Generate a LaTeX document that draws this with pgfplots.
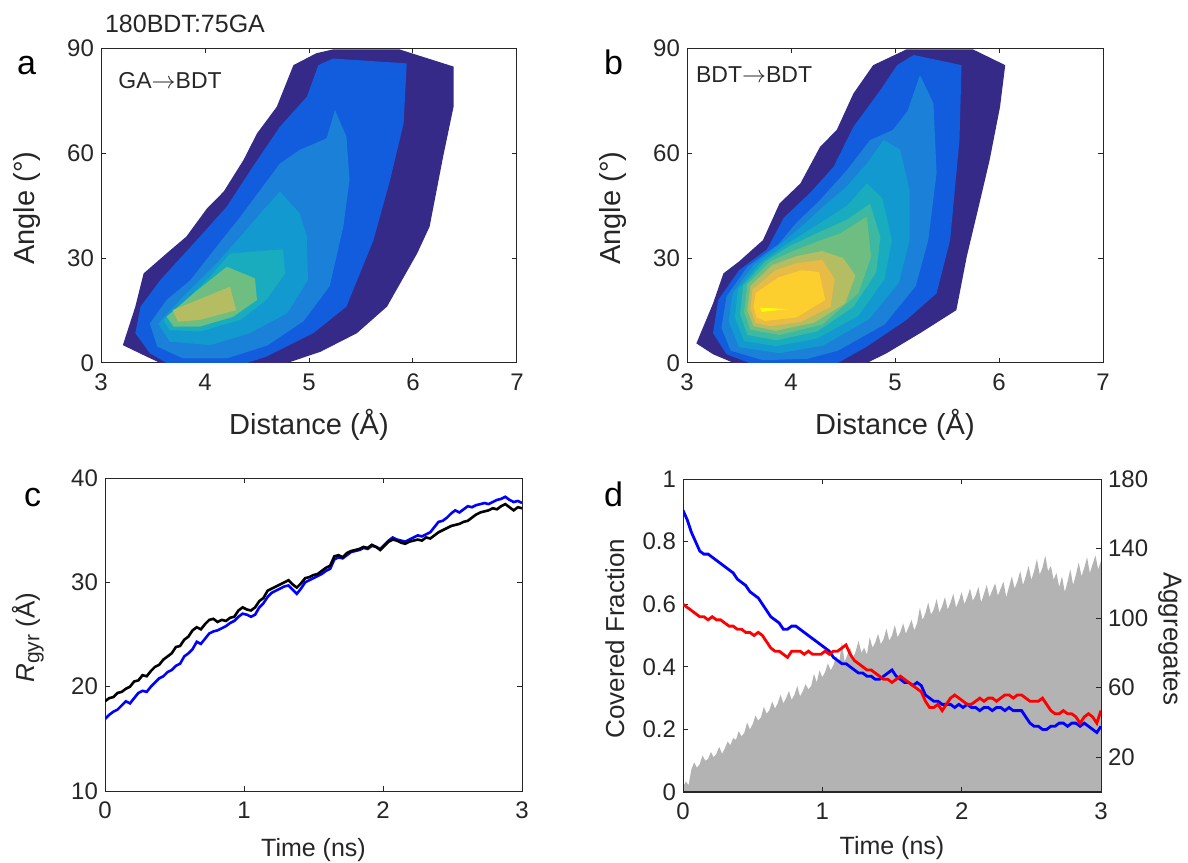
\documentclass[border=0pt]{standalone}
\usepackage{pgfplots}
\pgfplotsset{compat=1.18}
\usepackage{fontspec}
\setmainfont{Liberation Sans}

\definecolor{axcol}{RGB}{38,38,38}
\definecolor{lv1}{RGB}{53,42,135}
\definecolor{lv2}{RGB}{18,92,222}
\definecolor{lv3}{RGB}{26,128,216}
\definecolor{lv4}{RGB}{18,153,208}
\definecolor{lv5}{RGB}{24,172,190}
\definecolor{lv6}{RGB}{60,185,160}
\definecolor{lv7}{RGB}{110,190,130}
\definecolor{lv8}{RGB}{180,189,98}
\definecolor{lv9}{RGB}{232,186,70}
\definecolor{lv10}{RGB}{252,206,46}
\definecolor{lv11}{RGB}{249,251,14}
\definecolor{aggray}{RGB}{179,179,179}
\definecolor{rblue}{RGB}{0,0,255}
\definecolor{rred}{RGB}{255,0,0}

\pgfplotsset{
  panel/.style={
    scale only axis,
    axis line style={draw=axcol, line width=0.5pt},
    tick style={draw=axcol, line width=0.5pt},
    major tick length=2.5pt,
    tick align=inside,
    xtick pos=both, ytick pos=both,
    ticklabel style={font=\fontsize{12}{12}\selectfont, text=axcol},
    xticklabel style={yshift=-2pt},
    label style={font=\fontsize{13}{13}\selectfont, text=axcol},
    /pgf/number format/assume math mode=true,
    clip=true,
  },
  contourpanel/.style={
    panel,
    width=208pt, height=157.5pt,
    xmin=3, xmax=7, ymin=0, ymax=90,
    xtick={3,4,5,6,7}, ytick={0,30,60,90},
    label style={font=\fontsize{14.5}{14.5}\selectfont},
    xlabel={Distance (Å)}, ylabel={Angle (°)},
    xlabel style={at={(axis description cs:0.5,-0.197)}, anchor=center},
    ylabel style={at={(axis description cs:-0.178,0.492)}, anchor=center},
  },
}

\begin{document}
\begin{tikzpicture}
\useasboundingbox (0pt,0pt) rectangle (594pt,431pt);

% ---------- panel a: GA -> BDT ----------
\begin{axis}[contourpanel, at={(50.5pt,249.5pt)}, anchor=south west]
\addplot[fill=lv1, draw=none] coordinates {
 (3.21,5.1) (3.33,16.1) (3.41,25.6) (3.63,31.3) (3.82,36.1) (4.02,44.2) (4.18,49) (4.37,58)
 (4.50,65.6) (4.69,73.2) (4.85,85.1) (5.07,88.5) (5.23,89.6) (5.87,89.6) (6.39,84.7) (6.39,73.2)
 (6.29,59) (6.16,39) (6.04,31.3) (5.75,16.1) (5.46,8.5) (5.11,3.2) (4.79,0) (3.57,0) (3.44,1.8)};
\addplot[fill=lv2, draw=none] coordinates {
 (3.33,8.5) (3.38,16.1) (3.57,23.7) (3.95,36.1) (4.21,44.7) (4.46,56.1) (4.72,67.5) (4.98,76.1)
 (5.09,85.1) (5.23,87) (5.94,85.6) (5.91,68.5) (5.78,52.3) (5.62,35.1) (5.36,16.1) (5.04,8.5)
 (4.59,1.8) (4.40,0) (3.63,0) (3.47,2.8)};
\addplot[fill=lv3, draw=none] coordinates {
 (3.47,11.3) (3.63,18) (3.86,23.7) (4.11,33.2) (4.34,41.8) (4.53,49.4) (4.72,57) (4.91,60.9)
 (5.17,64.2) (5.25,72.3) (5.36,64.7) (5.39,52.3) (5.33,39) (5.2,22) (4.95,12) (4.6,5)
 (4.21,1.3) (3.79,1.3) (3.54,4.7)};
\addplot[fill=lv4, draw=none] coordinates {
 (3.55,11.3) (3.82,19.9) (4.08,27.5) (4.34,36.1) (4.56,43.7) (4.72,49) (4.91,42.8) (4.98,36.1)
 (4.99,23.7) (4.79,14.2) (4.43,8.5) (4.05,5.1) (3.66,6.1)};
\addplot[fill=lv5, draw=none] coordinates {
 (3.6,12.3) (3.82,18) (4.05,24.7) (4.24,31.3) (4.75,32.5) (4.77,25.6) (4.59,18) (4.34,12.3)
 (3.95,9) (3.66,9.4)};
\addplot[fill=lv7, draw=none] coordinates {
 (3.63,13.2) (3.89,19.9) (4.21,27.5) (4.48,24.2) (4.50,18) (4.27,13.2) (3.95,10.4) (3.70,10.4)};
\addplot[fill=lv8, draw=none] coordinates {
 (3.69,15.1) (4.24,21.8) (4.30,15.1) (3.95,12.3) (3.74,11.8)};
\node[anchor=base west, font=\fontsize{11.5}{11.5}\selectfont, text=axcol]
  at (rel axis cs:0.025,0.87) {GA$\rightarrow$BDT};
\end{axis}

% ---------- panel b: BDT -> BDT ----------
\begin{axis}[contourpanel, at={(343.5pt,249.5pt)}, anchor=south west]
\addplot[fill=lv1, draw=none] coordinates {
 (3.09,5.6) (3.25,17) (3.35,25.6) (3.5,29) (3.73,35.1) (3.89,45.6) (4.09,51.3) (4.28,61.8)
 (4.44,66.6) (4.6,77) (4.79,85.1) (5.11,89.6) (5.75,89.6) (6.06,85.1) (6.01,73.2) (5.91,58)
 (5.82,46.6) (5.69,30.4) (5.59,15.1) (5.24,8.5) (4.92,2.8) (4.73,0) (3.45,0) (3.25,2.5)};
\addplot[fill=lv2, draw=none] coordinates {
 (3.25,8.5) (3.3,18) (3.5,26.5) (3.77,32.5) (3.93,41.5) (4.18,48.5) (4.41,56.1) (4.6,67.5)
 (4.86,78) (5.02,85.1) (5.18,88) (5.64,85.1) (5.62,63.7) (5.53,35.1) (5.4,19.9) (5.11,12.3)
 (4.73,4.7) (4.45,0) (3.6,0) (3.38,2.5)};
\addplot[fill=lv3, draw=none] coordinates {
 (3.33,10) (3.38,19) (3.58,27.5) (3.88,34) (4.05,40) (4.28,46.6) (4.54,55.2) (4.76,63.7)
 (4.98,66.6) (5.12,72) (5.24,82.3) (5.37,74.2) (5.4,54.2) (5.32,35.1) (5.2,22) (4.9,11)
 (4.45,3.5) (4.16,1.2) (3.73,0.8) (3.42,3.5)};
\addplot[fill=lv4, draw=none] coordinates {
 (3.4,12) (3.44,20) (3.64,28) (3.92,34.5) (4.12,39.5) (4.32,45) (4.52,50) (4.73,57)
 (4.89,63.7) (5.05,61) (5.14,49.4) (5.14,35.1) (5.04,23) (4.75,12.5) (4.31,5) (3.89,2.8)
 (3.5,4.5)};
\addplot[fill=lv5, draw=none] coordinates {
 (3.46,13) (3.49,21) (3.7,28.5) (3.96,34) (4.28,40) (4.54,45) (4.73,51.3) (4.88,47)
 (4.97,35.1) (4.9,24) (4.65,13.5) (4.25,7) (3.86,4.8) (3.55,6.2)};
\addplot[fill=lv6, draw=none] coordinates {
 (3.51,14) (3.54,22) (3.75,29) (3.99,33.5) (4.28,37.5) (4.54,41) (4.76,45.5) (4.86,36)
 (4.82,26) (4.6,16) (4.25,9) (3.86,6.5) (3.58,8)};
\addplot[fill=lv7, draw=none] coordinates {
 (3.55,14.5) (3.58,22.5) (3.8,29) (4.02,32) (4.28,35) (4.47,37) (4.73,41.8) (4.77,30.4)
 (4.65,20) (4.3,11) (3.89,8) (3.61,9.5)};
\addplot[fill=lv8, draw=none] coordinates {
 (3.58,15) (3.61,22) (3.82,28) (4.05,30.5) (4.3,32) (4.5,30) (4.62,25) (4.52,17)
 (4.22,11.5) (3.85,9.2) (3.64,10.5)};
\addplot[fill=lv9, draw=none] coordinates {
 (3.61,15.5) (3.63,21) (3.85,26.5) (4.05,28.5) (4.3,29.5) (4.42,24) (4.38,16) (4.1,11.8)
 (3.8,10.5) (3.66,11.5)};
\addplot[fill=lv10, draw=none] coordinates {
 (3.64,16) (3.66,20) (3.88,24.5) (4.1,26.5) (4.27,26) (4.33,18) (4.05,13) (3.75,12) (3.67,13)};
\addplot[fill=lv11, draw=none] coordinates {
 (3.7,15.8) (3.98,15.4) (3.72,14.6)};
\node[anchor=base west, font=\fontsize{11.5}{11.5}\selectfont, text=axcol]
  at (rel axis cs:0.005,0.89) {BDT$\rightarrow$BDT};
\end{axis}

% ---------- panel c: radius of gyration ----------
\begin{axis}[panel, at={(52.5pt,35.5pt)}, anchor=south west,
  width=208.5pt, height=156.5pt,
  xmin=0, xmax=3, ymin=10, ymax=40,
  xtick={0,1,2,3}, ytick={10,20,30,40},
  xlabel={Time (ns)},
  ylabel={\textit{R}\raisebox{-0.35ex}{\fontsize{10.5}{10.5}\selectfont gyr} (Å)},
  xlabel style={at={(axis description cs:0.5,-0.19)}, anchor=center, font=\fontsize{12.5}{12.5}\selectfont},
  ylabel style={at={(axis description cs:-0.185,0.49)}, anchor=center},
]
\addplot[rblue, line width=1.3pt] coordinates {
 (0.00,16.9) (0.03,17.3) (0.06,17.6) (0.09,17.8) (0.12,18.2) (0.15,18.6) (0.18,18.4) (0.21,18.9)
 (0.24,19.4) (0.27,19.6) (0.30,19.5) (0.33,20.0) (0.36,20.4) (0.39,20.8) (0.42,21.0) (0.45,21.4)
 (0.48,21.6) (0.51,22.0) (0.54,22.2) (0.57,22.9) (0.60,23.2) (0.63,23.6) (0.66,24.3) (0.69,24.1)
 (0.72,24.6) (0.75,25.1) (0.78,25.3) (0.81,25.4) (0.84,25.6) (0.87,25.8) (0.90,26.1) (0.93,26.3)
 (0.96,26.7) (0.99,27.0) (1.02,26.9) (1.05,26.7) (1.08,26.9) (1.11,27.6) (1.14,28.0) (1.17,28.6)
 (1.20,29.0) (1.23,29.2) (1.26,29.4) (1.29,29.6) (1.32,29.7) (1.35,29.3) (1.38,28.9) (1.41,29.4)
 (1.44,30.0) (1.47,30.2) (1.50,30.4) (1.53,30.6) (1.56,30.8) (1.59,31.1) (1.62,31.3) (1.65,32.2)
 (1.68,32.4) (1.71,32.3) (1.74,32.6) (1.77,32.9) (1.80,33.0) (1.83,33.1) (1.86,33.3) (1.89,33.2)
 (1.92,33.5) (1.95,33.4) (1.98,33.2) (2.01,33.6) (2.04,34.0) (2.07,34.3) (2.10,34.1) (2.13,34.0)
 (2.16,33.9) (2.19,34.1) (2.22,34.3) (2.25,34.5) (2.28,34.4) (2.31,34.6) (2.34,34.8) (2.37,35.3)
 (2.40,35.8) (2.43,35.9) (2.46,36.2) (2.49,36.6) (2.52,36.9) (2.55,36.7) (2.58,37.0) (2.61,37.3)
 (2.64,37.2) (2.67,37.4) (2.70,37.5) (2.73,37.6) (2.76,37.5) (2.79,37.7) (2.82,37.9) (2.85,38.0)
 (2.88,38.2) (2.91,37.9) (2.94,37.7) (2.97,37.8) (3.00,37.6)};
\addplot[black, line width=1.3pt] coordinates {
 (0.00,18.6) (0.03,18.9) (0.06,19.0) (0.09,19.4) (0.12,19.5) (0.15,19.8) (0.18,20.0) (0.21,20.5)
 (0.24,20.6) (0.27,21.1) (0.30,21.0) (0.33,21.5) (0.36,21.9) (0.39,22.1) (0.42,22.6) (0.45,22.9)
 (0.48,23.2) (0.51,23.8) (0.54,23.9) (0.57,24.5) (0.60,24.8) (0.63,25.4) (0.66,25.7) (0.69,25.5)
 (0.72,26.0) (0.75,26.4) (0.78,26.5) (0.81,26.2) (0.84,26.4) (0.87,26.3) (0.90,26.6) (0.93,26.7)
 (0.96,27.3) (0.99,27.6) (1.02,27.4) (1.05,27.3) (1.08,27.6) (1.11,28.2) (1.14,28.5) (1.17,29.2)
 (1.20,29.4) (1.23,29.6) (1.26,29.8) (1.29,30.0) (1.32,30.2) (1.35,29.8) (1.38,29.5) (1.41,29.9)
 (1.44,30.4) (1.47,30.5) (1.50,30.7) (1.53,30.8) (1.56,31.1) (1.59,31.4) (1.62,31.6) (1.65,32.5)
 (1.68,32.6) (1.71,32.4) (1.74,32.8) (1.77,33.0) (1.80,33.1) (1.83,33.2) (1.86,33.4) (1.89,33.3)
 (1.92,33.6) (1.95,33.4) (1.98,33.1) (2.01,33.5) (2.04,33.9) (2.07,34.1) (2.10,34.0) (2.13,33.8)
 (2.16,33.7) (2.19,33.9) (2.22,34.0) (2.25,34.1) (2.28,34.0) (2.31,34.3) (2.34,34.2) (2.37,34.5)
 (2.40,34.8) (2.43,35.0) (2.46,35.2) (2.49,35.4) (2.52,35.5) (2.55,35.6) (2.58,35.8) (2.61,35.9)
 (2.64,36.2) (2.67,36.5) (2.70,36.7) (2.73,36.8) (2.76,36.9) (2.79,37.1) (2.82,37.0) (2.85,37.3)
 (2.88,37.5) (2.91,37.2) (2.94,36.9) (2.97,37.2) (3.00,37.1)};
\end{axis}

% ---------- panel d: aggregates (right axis) ----------
\begin{axis}[panel, at={(341.5pt,35pt)}, anchor=south west,
  width=209pt, height=156.5pt,
  axis on top,
  xmin=0, xmax=3, ymin=0, ymax=180,
  xtick=\empty,
  ytick={20,60,100,140,180}, ytick pos=right, yticklabel pos=right,
  ylabel={Aggregates},
  ylabel style={at={(axis description cs:1.165,0.49)}, anchor=center, rotate=180},
]
\addplot[fill=aggray, draw=none] coordinates {
 (0.00,3) (0.02,6) (0.04,4) (0.06,13) (0.08,17) (0.10,14) (0.12,16) (0.14,21) (0.16,18) (0.18,19)
 (0.20,23) (0.22,20) (0.24,22) (0.26,26) (0.28,22) (0.30,25) (0.32,29) (0.34,27) (0.36,31) (0.38,30)
 (0.40,35) (0.42,32) (0.44,34) (0.46,40) (0.48,36) (0.50,39) (0.52,44) (0.54,41) (0.56,43) (0.58,49)
 (0.60,45) (0.62,47) (0.64,52) (0.66,48) (0.68,51) (0.70,56) (0.72,51) (0.74,54) (0.76,58) (0.78,53)
 (0.80,56) (0.82,61) (0.84,55) (0.86,58) (0.88,62) (0.90,59) (0.92,61) (0.94,68) (0.96,63) (0.98,70)
 (1.00,66) (1.02,69) (1.04,74) (1.06,70) (1.08,73) (1.10,78) (1.12,74) (1.14,86) (1.16,75) (1.18,79)
 (1.20,83) (1.22,77) (1.24,81) (1.26,87) (1.28,80) (1.30,83) (1.32,79) (1.34,89) (1.36,83) (1.38,86)
 (1.40,91) (1.42,85) (1.44,88) (1.46,94) (1.48,87) (1.50,90) (1.52,96) (1.54,89) (1.56,92) (1.58,97)
 (1.60,91) (1.62,95) (1.64,99) (1.66,93) (1.68,97) (1.70,106) (1.72,99) (1.74,103) (1.76,109) (1.78,102)
 (1.80,105) (1.82,111) (1.84,103) (1.86,107) (1.88,112) (1.90,105) (1.92,109) (1.94,114) (1.96,106) (1.98,110)
 (2.00,115) (2.02,108) (2.04,112) (2.06,117) (2.08,110) (2.10,113) (2.12,118) (2.14,109) (2.16,114) (2.18,119)
 (2.20,112) (2.22,116) (2.24,120) (2.26,113) (2.28,117) (2.30,121) (2.32,112) (2.34,118) (2.36,124) (2.38,117)
 (2.40,121) (2.42,127) (2.44,119) (2.46,124) (2.48,130) (2.50,122) (2.52,127) (2.54,134) (2.56,125) (2.58,129)
 (2.60,136) (2.62,127) (2.64,130) (2.66,122) (2.68,126) (2.70,118) (2.72,124) (2.74,115) (2.76,121) (2.78,128)
 (2.80,119) (2.82,125) (2.84,132) (2.86,124) (2.88,129) (2.90,135) (2.92,126) (2.94,131) (2.96,136) (2.98,128)
 (3.00,133)} \closedcycle;
\end{axis}

% ---------- panel d: covered fraction (left axis) ----------
\begin{axis}[panel, at={(341.5pt,35pt)}, anchor=south west,
  width=209pt, height=156.5pt,
  xmin=0, xmax=3, ymin=0, ymax=1,
  xtick={0,1,2,3}, ytick={0,0.2,0.4,0.6,0.8,1}, ytick pos=left,
  xlabel={Time (ns)}, ylabel={Covered Fraction},
  xlabel style={at={(axis description cs:0.5,-0.179)}, anchor=center, font=\fontsize{12.5}{12.5}\selectfont},
  ylabel style={at={(axis description cs:-0.163,0.49)}, anchor=center},
]
\addplot[rblue, line width=1.4pt] coordinates {
 (0.00,0.90) (0.03,0.87) (0.06,0.83) (0.09,0.80) (0.12,0.77) (0.15,0.76) (0.18,0.76) (0.21,0.75)
 (0.24,0.74) (0.27,0.73) (0.30,0.72) (0.33,0.71) (0.36,0.70) (0.39,0.68) (0.42,0.67) (0.45,0.66)
 (0.48,0.64) (0.51,0.63) (0.54,0.62) (0.57,0.60) (0.60,0.58) (0.63,0.56) (0.66,0.55) (0.69,0.54)
 (0.72,0.52) (0.75,0.52) (0.78,0.53) (0.81,0.53) (0.84,0.52) (0.87,0.51) (0.90,0.50) (0.93,0.49)
 (0.96,0.48) (0.99,0.47) (1.02,0.46) (1.05,0.45) (1.08,0.43) (1.11,0.42) (1.14,0.41) (1.17,0.41)
 (1.20,0.40) (1.23,0.39) (1.26,0.38) (1.29,0.38) (1.32,0.37) (1.35,0.37) (1.38,0.36) (1.41,0.36)
 (1.44,0.37) (1.47,0.38) (1.50,0.39) (1.53,0.37) (1.56,0.36) (1.59,0.35) (1.62,0.35) (1.65,0.34)
 (1.68,0.35) (1.71,0.34) (1.74,0.31) (1.77,0.30) (1.80,0.29) (1.83,0.29) (1.86,0.28) (1.89,0.28)
 (1.92,0.28) (1.95,0.27) (1.98,0.28) (2.01,0.27) (2.04,0.28) (2.07,0.27) (2.10,0.27) (2.13,0.26)
 (2.16,0.27) (2.19,0.27) (2.22,0.26) (2.25,0.27) (2.28,0.27) (2.31,0.26) (2.34,0.27) (2.37,0.26)
 (2.40,0.26) (2.43,0.26) (2.46,0.24) (2.49,0.22) (2.52,0.21) (2.55,0.21) (2.58,0.20) (2.61,0.20)
 (2.64,0.21) (2.67,0.21) (2.70,0.22) (2.73,0.22) (2.76,0.21) (2.79,0.22) (2.82,0.22) (2.85,0.21)
 (2.88,0.22) (2.91,0.21) (2.94,0.20) (2.97,0.19) (3.00,0.21)};
\addplot[rred, line width=1.4pt] coordinates {
 (0.00,0.60) (0.03,0.59) (0.06,0.58) (0.09,0.57) (0.12,0.56) (0.15,0.56) (0.18,0.55) (0.21,0.56)
 (0.24,0.55) (0.27,0.55) (0.30,0.54) (0.33,0.53) (0.36,0.53) (0.39,0.52) (0.42,0.52) (0.45,0.51)
 (0.48,0.51) (0.51,0.50) (0.54,0.51) (0.57,0.50) (0.60,0.48) (0.63,0.46) (0.66,0.45) (0.69,0.45)
 (0.72,0.44) (0.75,0.43) (0.78,0.45) (0.81,0.45) (0.84,0.45) (0.87,0.44) (0.90,0.45) (0.93,0.44)
 (0.96,0.44) (0.99,0.44) (1.02,0.45) (1.05,0.44) (1.08,0.45) (1.11,0.45) (1.14,0.46) (1.17,0.47)
 (1.20,0.44) (1.23,0.42) (1.26,0.41) (1.29,0.40) (1.32,0.39) (1.35,0.39) (1.38,0.38) (1.41,0.37)
 (1.44,0.36) (1.47,0.36) (1.50,0.35) (1.53,0.36) (1.56,0.37) (1.59,0.36) (1.62,0.35) (1.65,0.34)
 (1.68,0.33) (1.71,0.32) (1.74,0.29) (1.77,0.27) (1.80,0.27) (1.83,0.28) (1.86,0.26) (1.89,0.28)
 (1.92,0.30) (1.95,0.31) (1.98,0.30) (2.01,0.29) (2.04,0.28) (2.07,0.28) (2.10,0.29) (2.13,0.30)
 (2.16,0.29) (2.19,0.30) (2.22,0.30) (2.25,0.29) (2.28,0.30) (2.31,0.31) (2.34,0.31) (2.37,0.30)
 (2.40,0.31) (2.43,0.31) (2.46,0.30) (2.49,0.29) (2.52,0.29) (2.55,0.29) (2.58,0.30) (2.61,0.28)
 (2.64,0.26) (2.67,0.25) (2.70,0.25) (2.73,0.26) (2.76,0.25) (2.79,0.25) (2.82,0.24) (2.85,0.22)
 (2.88,0.24) (2.91,0.25) (2.94,0.24) (2.97,0.22) (3.00,0.26)};
\end{axis}

% ---------- panel letters and heading ----------
\node[anchor=base west, font=\fontsize{17}{17}\selectfont, text=black] at (5pt,393.5pt) {a};
\node[anchor=base west, font=\fontsize{17}{17}\selectfont, text=black] at (298.5pt,393.5pt) {b};
\node[anchor=base west, font=\fontsize{17}{17}\selectfont, text=black] at (8.5pt,177.5pt) {c};
\node[anchor=base west, font=\fontsize{17}{17}\selectfont, text=black] at (298.5pt,177.5pt) {d};
\node[anchor=base west, font=\fontsize{12.5}{12.5}\selectfont, text=axcol] at (49pt,414.5pt) {180BDT:75GA};
\end{tikzpicture}
\end{document}
